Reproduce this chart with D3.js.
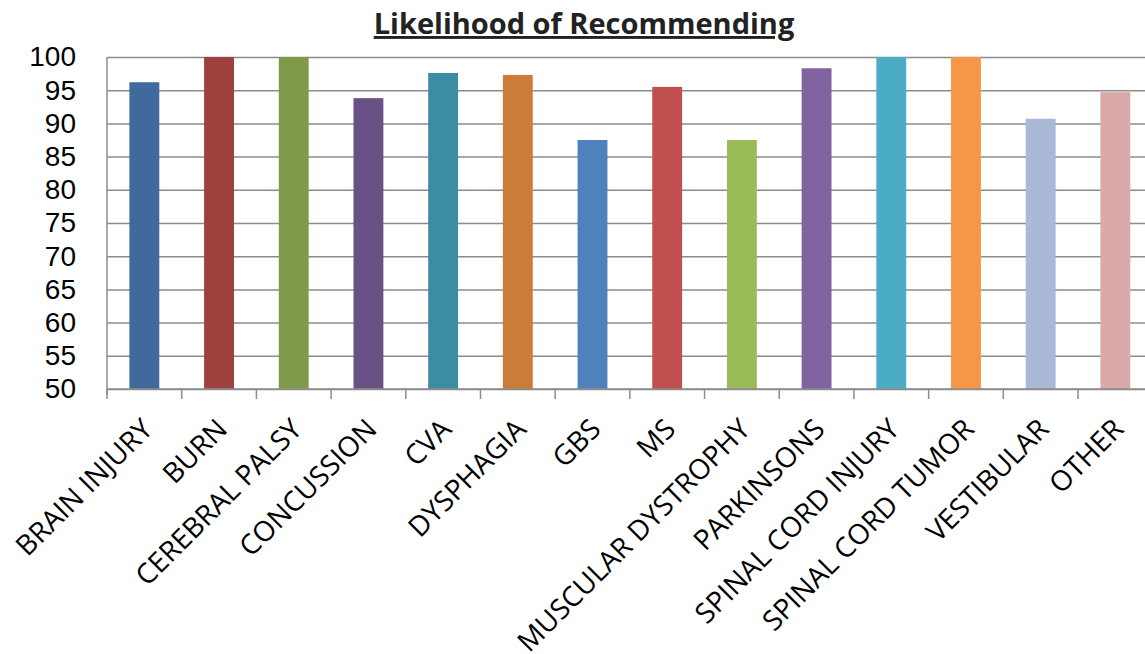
<!DOCTYPE html>
<html>
<head>
<meta charset="utf-8">
<script src="https://cdn.jsdelivr.net/npm/d3@7"></script>
<style>
  body { margin: 0; background: #fff; }
  svg { display: block; font-family: "Open Sans", sans-serif; }
</style>
</head>
<body>
<div id="chart"></div>
<script>
// categories and values
var categories = ["BRAIN INJURY", "BURN", "CEREBRAL PALSY", "CONCUSSION", "CVA", "DYSPHAGIA", "GBS",
  "MS", "MUSCULAR DYSTROPHY", "PARKINSONS", "SPINAL CORD INJURY", "SPINAL CORD TUMOR", "VESTIBULAR", "OTHER"];
var scores = [96.2, 100, 100, 93.8, 97.6, 97.3, 87.5, 95.5, 87.5, 98.3, 100, 100, 90.7, 94.7];
var barColors = ["#40699c", "#9d403e", "#7f9a48", "#695085", "#3c8ca3", "#cc7b38", "#4f81bd",
  "#c0504d", "#9bbb59", "#8064a2", "#4bacc6", "#f79646", "#aab9d7", "#d9aaa9"];
var yTicks = [50, 55, 60, 65, 70, 75, 80, 85, 90, 95, 100];

var width = 1145, height = 654;
var marginLeft = 107, marginTop = 57, plotBottom = 389, plotRight = 1152.7;

var svg = d3.select("#chart").append("svg")
    .attr("width", width)
    .attr("height", height)
    .attr("viewBox", [0, 0, width, height]);

var xScale = d3.scaleBand()
    .domain(categories)
    .range([marginLeft, plotRight])
    .paddingInner(0.6)
    .paddingOuter(0.3);

var yScale = d3.scaleLinear()
    .domain([50, 100])
    .range([plotBottom, marginTop]);

// gridlines + y labels
var yAxis = svg.append("g")
    .attr("transform", `translate(${marginLeft},0)`)
    .call(d3.axisLeft(yScale).tickValues(yTicks).tickSize(10).tickPadding(21))
    .call(g => g.select(".domain").remove());

yAxis.selectAll(".tick line")
    .attr("x2", plotRight - marginLeft)
    .attr("stroke", "#8c8c8c")
    .attr("stroke-width", 1.5);

yAxis.selectAll(".tick text")
    .attr("fill", "#000")
    .style("font-size", "28px");

// bars
svg.append("g")
  .selectAll("rect")
  .data(scores)
  .enter().append("rect")
    .attr("x", (d, i) => xScale(categories[i]))
    .attr("y", d => yScale(d))
    .attr("width", xScale.bandwidth())
    .attr("height", d => yScale(50) - yScale(d))
    .attr("fill", (d, i) => barColors[i]);

// vertical axis line
svg.append("line")
    .attr("x1", marginLeft).attr("x2", marginLeft)
    .attr("y1", marginTop).attr("y2", plotBottom + 6)
    .attr("stroke", "#8c8c8c")
    .attr("stroke-width", 1.5);

// x axis: ticks sit between categories
var step = xScale.step();
var xAxis = svg.append("g")
    .attr("transform", `translate(0,${plotBottom})`);

xAxis.append("line")
    .attr("x1", marginLeft).attr("x2", plotRight)
    .attr("stroke", "#8c8c8c")
    .attr("stroke-width", 1.5);

xAxis.selectAll(".sep")
  .data(d3.range(categories.length + 1))
  .enter().append("line")
    .attr("class", "sep")
    .attr("x1", i => marginLeft + i * step)
    .attr("x2", i => marginLeft + i * step)
    .attr("y1", 0).attr("y2", 10)
    .attr("stroke", "#8c8c8c")
    .attr("stroke-width", 1.5);

xAxis.selectAll(".lab")
  .data(categories)
  .enter().append("text")
    .attr("class", "lab")
    .attr("transform", d => `translate(${xScale(d) + xScale.bandwidth() / 2 - 4},${28}) rotate(-45)`)
    .attr("text-anchor", "end")
    .attr("dy", "0.7em")
    .attr("fill", "#000")
    .style("font-size", "28px")
    .text(d => d);

// title
svg.append("text")
    .attr("x", 584)
    .attr("y", 34)
    .attr("text-anchor", "middle")
    .attr("fill", "#222")
    .style("font-size", "29px")
    .style("font-weight", "bold")
    .style("text-decoration", "underline")
    .text("Likelihood of Recommending");
</script>
</body>
</html>
